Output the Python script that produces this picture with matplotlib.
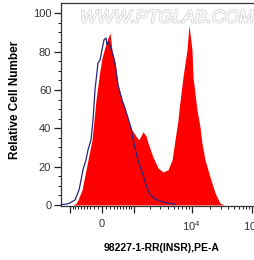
import numpy as np
import matplotlib
matplotlib.use("Agg")
import matplotlib.pyplot as plt
import matplotlib.patheffects as pe
from matplotlib.ticker import FixedLocator, NullFormatter

plt.rcParams["font.family"] = ["Liberation Sans", "DejaVu Sans"]
plt.rcParams["mathtext.fontset"] = "custom"
plt.rcParams["mathtext.rm"] = "Liberation Sans"
plt.rcParams["mathtext.it"] = "Liberation Sans"

# --------------------------------------------------
# Histogram data (fluorescence intensity, % of max)
# --------------------------------------------------

stained_x = [-884, -765, -690, -552, -488, -368, -257, -204,
             -152, -101, -50, 0, 75, 152, 204, 257, 339, 427,
             552, 653, 765, 925, 1103, 1257, 1500, 1700, 1843, 2244,
             2736, 3320, 4033, 4712, 5280, 5920, 6150, 7168, 8350, 9010,
             10100, 10490, 12210, 13700, 14750, 16570, 20050, 24240, 29300, 34100]
stained_y = [0, 0.8, 2.6, 7.8, 13.0, 23.5, 33.9, 44.3,
             54.8, 62.6, 70.4, 76.7, 82.4, 87.1, 89.7, 80.9, 74.6, 62.6,
             54.8, 49.6, 44.3, 39.1, 36.0, 33.9, 38.1, 36.0, 32.3, 25.0,
             19.3, 17.2, 18.3, 23.5, 33.9, 44.3, 49.6, 66.8, 80.9, 93.9,
             80.9, 66.8, 49.6, 40.7, 32.3, 23.5, 14.6, 6.3, 1.0, 0]

control_x = [-1500, -1203, -1020, -803, -653, -584, -520, -427, -368, -284,
             -230, -178, -101, -50, 0, 50, 101, 126, 152, 204, 257,
             339, 427, 552, 653, 765, 884, 975, 1061, 1203, 1500,
             1770, 1995, 2430, 2950, 3875, 5280]
control_y = [0.15, 0.4, 1.0, 2.6, 7.8, 13.0, 18.3, 23.5, 28.7, 33.9,
             44.3, 60.0, 74.1, 75.6, 80.9, 86.1, 87.1, 83.5, 85.0, 83.0, 79.8,
             74.1, 62.6, 54.8, 50.6, 45.4, 40.2, 33.9, 29.7, 23.5, 15.6,
             8.9, 5.7, 3.1, 2.1, 1.0, 0.3]

x_major = [-1000, 0, 1000, 10000, 100000]
x_labels = ["", "0", "", "$10^4$", "$10^5$"]
y_major = [0, 20, 40, 60, 80, 100]


def minor_ticks():
    ticks = [k * 100 * s for k in range(1, 10) for s in (-1, 1)]
    ticks += [k * 10 ** e for e in (3, 4, 5) for k in range(2, 10)]
    return sorted(ticks)


fig = plt.figure(figsize=(2.55, 2.6), dpi=100)
ax = fig.add_axes([0.2392, 0.2096, 0.788, 0.7777])

ax.set_xscale("asinh", linear_width=660)

ax.fill_between(stained_x, stained_y, 0, color="#ff0000", linewidth=0)
ax.plot(control_x, control_y, color="#28287e", linewidth=0.9)

ax.set_xlim(-1500, 144500)
ax.set_ylim(-0.3, 105.2)

ax.xaxis.set_major_locator(FixedLocator(x_major))
ax.set_xticklabels(x_labels)
ax.xaxis.set_minor_locator(FixedLocator(minor_ticks()))
ax.xaxis.set_minor_formatter(NullFormatter())

ax.set_yticks(y_major)
ax.yaxis.set_minor_locator(FixedLocator(np.arange(0, 105, 5)))

ax.tick_params(axis="both", which="major", length=5, width=0.9,
               labelsize=8, colors="#222222", labelcolor="#333333")
ax.tick_params(axis="both", which="minor", length=2.5, width=0.7,
               colors="#222222")
ax.tick_params(axis="x", which="major", pad=5)
ax.tick_params(axis="y", which="major", pad=2)

for side in ("left", "top", "bottom"):
    ax.spines[side].set_color("#333333")
    ax.spines[side].set_linewidth(0.9)
ax.spines["right"].set_visible(False)

ax.set_ylabel("Relative Cell Number", fontsize=8.5, fontweight="bold")
ax.yaxis.set_label_coords(-0.2, 0.52)
ax.set_xlabel("98227-1-RR(INSR),PE-A", fontsize=7.5, fontweight="bold",
              labelpad=7)

ax.text(0.095, 0.927, "WWW.PTGLAB.COM", transform=ax.transAxes,
        fontsize=13, fontstyle="italic", color="white",
        ha="left", va="center",
        path_effects=[pe.withStroke(linewidth=1.2, foreground="#d4d4d4")])

fig.savefig("out.png", dpi=100)
